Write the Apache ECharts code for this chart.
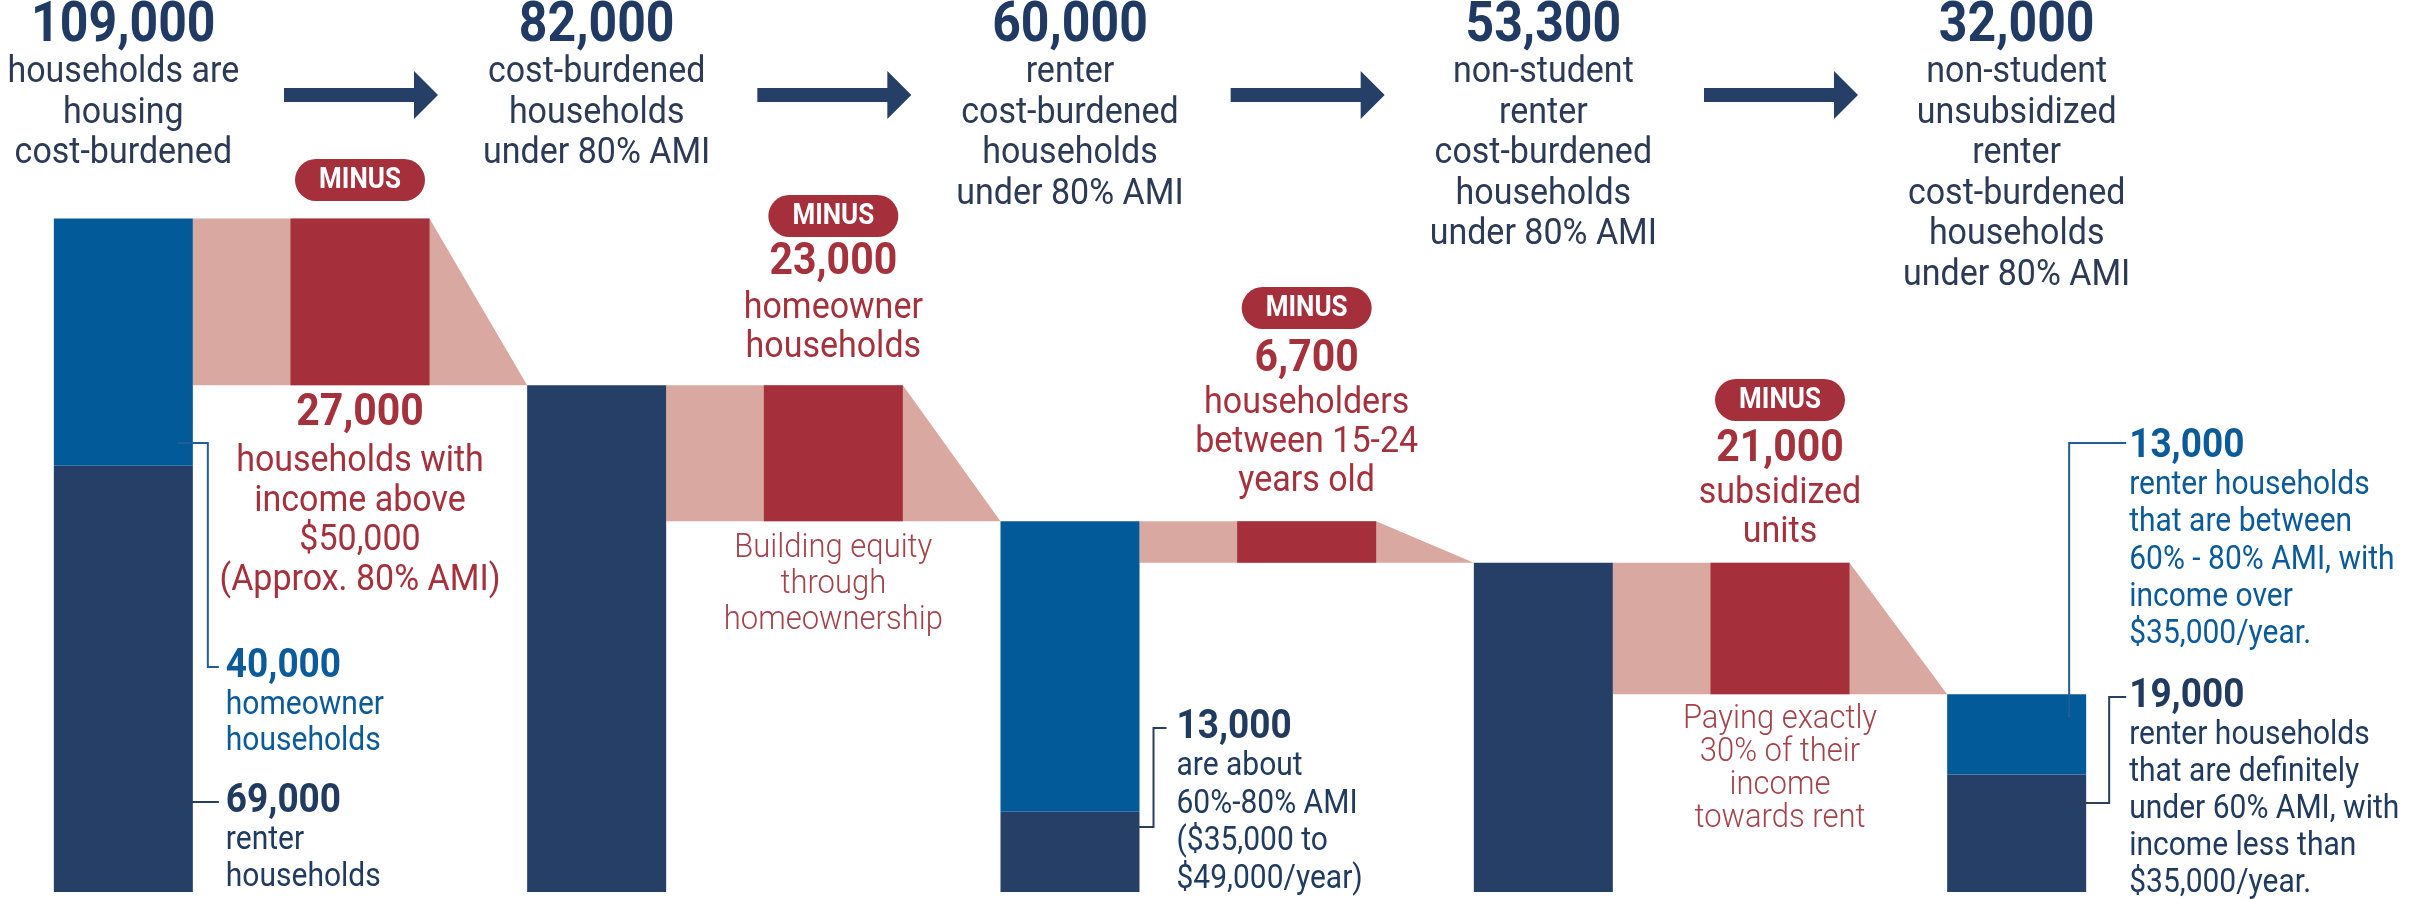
<!DOCTYPE html>
<html><head><meta charset="utf-8">
<script src="https://cdn.jsdelivr.net/npm/echarts@6/dist/echarts.min.js"></script>
<style>html,body{margin:0;padding:0;background:#fff}#c{width:2417px;height:899px}</style>
</head><body><div id="c"></div>
<script>
// ---------------- DATA ----------------
const categories = ['Housing cost-burdened', 'Minus income above $50,000', 'Under 80% AMI',
  'Minus homeowners', 'Renters under 80% AMI', 'Minus householders 15-24',
  'Non-student renters', 'Minus subsidized units', 'Non-student unsubsidized renters'];
const totals = [109000, 82000, 60000, 53300, 32000];
const darkParts = [69000, 82000, 13000, 53300, 19000];
const lightParts = [40000, 0, 47000, 0, 13000];
const dropLabels = [27000, 23000, 6700, 21000];
const headerTexts = [
  ['households are', 'housing', 'cost-burdened'],
  ['cost-burdened', 'households', 'under 80% AMI'],
  ['renter', 'cost-burdened', 'households', 'under 80% AMI'],
  ['non-student', 'renter', 'cost-burdened', 'households', 'under 80% AMI'],
  ['non-student', 'unsubsidized', 'renter', 'cost-burdened', 'households', 'under 80% AMI']
];
const dropAbove = [[], ['homeowner', 'households'], ['householders', 'between 15-24', 'years old'], ['subsidized', 'units']];
const dropBelow = [['households with', 'income above', '$50,000', '(Approx. 80% AMI)'], [], [], []];
const dropNotes = [[], ['Building equity', 'through', 'homeownership'], [], ['Paying exactly', '30% of their', 'income', 'towards rent']];
const barNotes = [
  {idx: 0, items: [
    {num: 40000, lines: ['homeowner', 'households'], tone: 'light'},
    {num: 69000, lines: ['renter', 'households'], tone: 'dark'}]},
  {idx: 2, items: [
    {num: 13000, lines: ['are about', '60%-80% AMI', '($35,000 to', '$49,000/year)'], tone: 'dark'}]},
  {idx: 4, items: [
    {num: 13000, lines: ['renter households', 'that are between', '60% - 80% AMI, with', 'income over', '$35,000/year.'], tone: 'light'},
    {num: 19000, lines: ['renter households', 'that are definitely', 'under 60% AMI, with', 'income less than', '$35,000/year.'], tone: 'dark'}]}
];

// ---------------- STYLE / LAYOUT ----------------
const C = {navy: '#263F66', blue: '#035A99', red: '#A5303B', pink: '#D9A9A1',
  headNum: '#203A63', headTxt: '#2C3A55', redTxt: '#A5313C', noteTxt: '#A2434C', blueTxt: '#0B5A99', navyTxt: '#213A60'};
const BAR_W = 139;
const FONT = 'Roboto';
const TEXT_SY = 1.1;
const L = {
  headNumY: 27, headLine0: 73, headLH: 40.5,
  arrowY: 95,
  badgeY: [180, 216, 308, 400],
  dropNumY: [414, 263, 360, 450],
  dropAboveY0: [0, 309, 404, 494], dropAboveLH: 39,
  dropBelowY0: [462, 0, 0, 0], dropBelowLH: 39.5,
  dropNoteY0: [0, 548, 0, 719], dropNoteLH: [0, 36, 0, 33],
  barNotes: [
    {textDx: 33, items: [
      {y: 667, lh: 35.5, conn: [[-15, 443], [15, 443], [15, 667], [26, 667]]},
      {y: 802, lh: 37, conn: [[-15, 802], [26, 802]]}]},
    {textDx: 37, items: [
      {y: 728, lh: 37.5, conn: [[-17, 827], [14, 827], [14, 728], [27, 728]]}]},
    {textDx: 43, items: [
      {y: 447, lh: 37.2, conn: [[-17, 717], [-17, 443], [40, 443]]},
      {y: 697, lh: 37, conn: [[-17, 803], [23, 803], [23, 697], [40, 697]]}]}
  ]
};
const fmt = v => v.toLocaleString('en-US');

// ---------------- SERIES DATA ----------------
const darkData = categories.map((_, k) => k % 2 === 0 ? darkParts[k / 2] : 0);
const lightData = categories.map((_, k) => k % 2 === 0 ? lightParts[k / 2] : 0);
const baseData = categories.map((_, k) => k % 2 === 1 ? totals[(k + 1) / 2] : 0);
const redData = categories.map((_, k) => k % 2 === 1 ? totals[(k - 1) / 2] - totals[(k + 1) / 2] : 0);
const pinkData = dropLabels.map((_, j) => [2 * j + 1, totals[j], totals[j + 1]]);

function txt(x, y, s, size, weight, color, align) {
  return {type: 'text', x: x, y: y, scaleY: TEXT_SY, silent: true,
    style: {text: s, fontSize: size, fontWeight: weight, fontFamily: FONT, fill: color,
      align: align || 'center', verticalAlign: 'middle'}};
}

function renderPink(params, api) {
  const k = api.value(0), half = BAR_W / 2;
  const xPrev = api.coord([k - 1, 0])[0] + half;
  const xRed = api.coord([k, 0])[0] + half;
  const xNext = api.coord([k + 1, 0])[0] - half;
  const yTop = api.coord([k, api.value(1)])[1];
  const yBot = api.coord([k, api.value(2)])[1];
  return {type: 'polygon', shape: {points: [[xPrev, yTop], [xRed, yTop], [xNext, yBot], [xPrev, yBot]]},
    style: {fill: C.pink}};
}

function renderNotes(params, api) {
  const cx = k => api.coord([k, 0])[0];
  const ch = [];
  // headers
  totals.forEach((t, i) => {
    const x = cx(2 * i);
    ch.push(txt(x, L.headNumY, fmt(t), 50, 'bold', C.headNum));
    headerTexts[i].forEach((s, n) => ch.push(txt(x, L.headLine0 + n * L.headLH, s, 34, 'normal', C.headTxt)));
  });
  // arrows + drops
  dropLabels.forEach((d, j) => {
    const k = 2 * j + 1, x = cx(k);
    const y = L.arrowY;
    ch.push({type: 'polygon', silent: true, shape: {points: [
      [x - 76, y - 7], [x + 54, y - 7], [x + 54, y - 24], [x + 78, y], [x + 54, y + 24], [x + 54, y + 7], [x - 76, y + 7]]},
      style: {fill: C.navy}});
    const by = L.badgeY[j];
    ch.push({type: 'rect', silent: true, shape: {x: x - 65, y: by - 21, width: 130, height: 42, r: 21}, style: {fill: C.red}});
    ch.push(txt(x, by + 1, 'MINUS', 26, 'bold', '#FFFFFF'));
    ch.push(txt(x, L.dropNumY[j], fmt(d), 41, 'bold', C.redTxt));
    dropAbove[j].forEach((s, n) => ch.push(txt(x, L.dropAboveY0[j] + n * L.dropAboveLH, s, 34, 'normal', C.redTxt)));
    dropBelow[j].forEach((s, n) => ch.push(txt(x, L.dropBelowY0[j] + n * L.dropBelowLH, s, 34, 'normal', C.redTxt)));
    dropNotes[j].forEach((s, n) => ch.push(txt(x, L.dropNoteY0[j] + n * L.dropNoteLH[j], s, 31, 300, C.noteTxt)));
  });
  // bar notes
  barNotes.forEach((bn, b) => {
    const lay = L.barNotes[b];
    const right = cx(bn.idx * 2) + BAR_W / 2;
    bn.items.forEach((it, m) => {
      const li = lay.items[m];
      const col = it.tone === 'light' ? C.blueTxt : C.navyTxt;
      ch.push({type: 'polyline', silent: true, shape: {points: li.conn.map(p => [right + p[0], p[1]])},
        style: {stroke: it.tone === 'light' ? '#1F5E96' : '#2A3F60', lineWidth: 2, fill: null}});
      ch.push(txt(right + lay.textDx, li.y, fmt(it.num), 37, 'bold', col, 'left'));
      it.lines.forEach((s, n) => ch.push(txt(right + lay.textDx, li.y + 39 + n * li.lh, s, 30, 'normal', col, 'left')));
    });
  });
  return {type: 'group', children: ch};
}

const chart = echarts.init(document.getElementById('c'), null, {renderer: 'canvas'});
chart.setOption({
  animation: false,
  backgroundColor: '#ffffff',
  grid: {left: 5, right: 282, top: 27, bottom: 7},
  xAxis: {type: 'category', data: categories, show: false},
  yAxis: {type: 'value', min: 0, max: 140000, show: false},
  series: [
    {type: 'custom', name: 'flow', z: 1, silent: true, renderItem: renderPink, data: pinkData, encode: {x: 0, y: 1}},
    {type: 'bar', name: 'renter / lower income', stack: 'w', barWidth: BAR_W, z: 2, silent: true,
      itemStyle: {color: C.navy}, data: darkData},
    {type: 'bar', name: 'homeowner / higher income', stack: 'w', barWidth: BAR_W, z: 2, silent: true,
      itemStyle: {color: C.blue}, data: lightData},
    {type: 'bar', name: 'base', stack: 'w', barWidth: BAR_W, z: 2, silent: true,
      itemStyle: {color: 'rgba(0,0,0,0)'}, data: baseData},
    {type: 'bar', name: 'removed', stack: 'w', barWidth: BAR_W, z: 2, silent: true,
      itemStyle: {color: C.red}, data: redData},
    {type: 'custom', name: 'notes', z: 10, silent: true, clip: false, renderItem: renderNotes, data: [[0, 0]]}
  ]
});
</script></body></html>
